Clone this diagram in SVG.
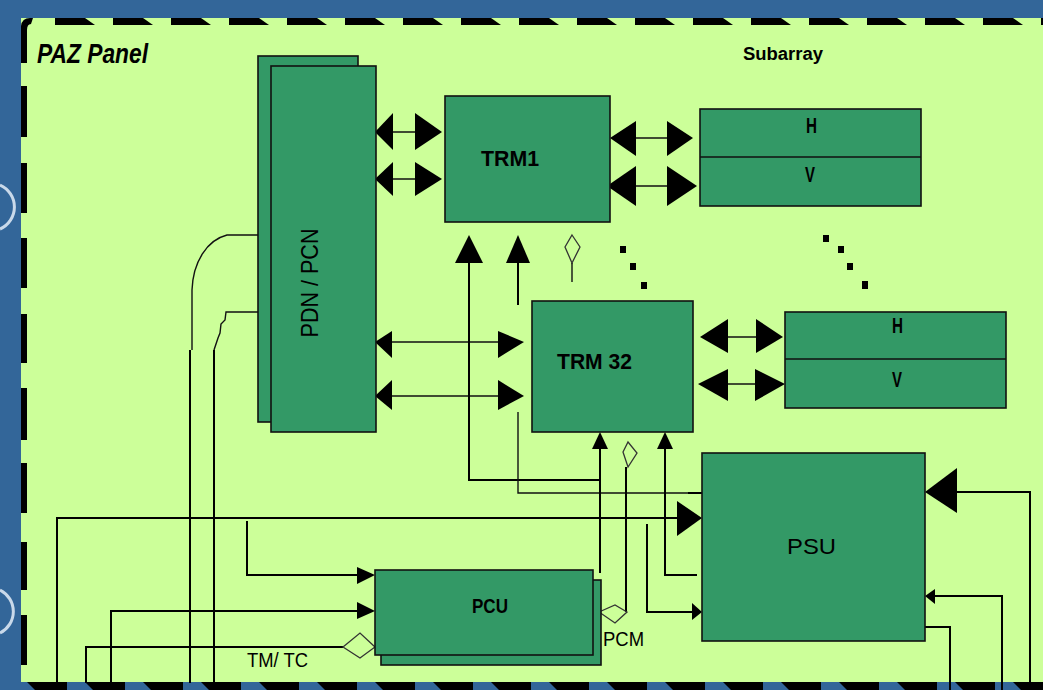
<svg xmlns="http://www.w3.org/2000/svg" width="1043" height="690" viewBox="0 0 1043 690">
<style>
.box{fill:#339966;stroke:#111;stroke-width:1.6}
.ln{fill:none;stroke:#000;stroke-width:2}
.thin{fill:none;stroke:#111;stroke-width:1.4}
.ah{fill:#000;stroke:none}
.dia{fill:none;stroke:#333;stroke-width:1.3}
.t{font-family:"Liberation Sans",Arial,sans-serif;fill:#000}
.b{font-weight:bold}
</style>
<defs>
<pattern id="topdash" x="55" y="18" width="58" height="7" patternUnits="userSpaceOnUse">
<polygon points="0,0 30,0 40,7 0,7" fill="#000"/>
</pattern>
<pattern id="botdash" x="27" y="682" width="58" height="8" patternUnits="userSpaceOnUse">
<polygon points="0,0 40,0 40,8 8,8" fill="#000"/>
</pattern>
</defs>

<g id="background">
<rect x="0" y="0" width="1043" height="690" fill="#336699"/>
<path d="M0,185 A24,24 0 0 1 0,229" fill="none" stroke="#c9d9ea" stroke-width="3"/>
<path d="M0,590 A24,24 0 0 1 0,633" fill="none" stroke="#c9d9ea" stroke-width="3"/>
<rect x="21" y="18" width="1022" height="664" fill="#CCFF99"/>
<rect x="55" y="18" width="988" height="7" fill="url(#topdash)"/>
<rect x="21" y="682" width="1022" height="8" fill="url(#botdash)"/>
<g fill="#000">
<path d="M21,63 V26 Q22,18 30,18 H33 L31,24 Q27,24 27,30 V63 Z"/>
<rect x="21" y="86" width="6" height="51"/>
<rect x="21" y="163" width="6" height="50"/>
<rect x="21" y="238" width="6" height="50"/>
<rect x="21" y="314" width="6" height="49"/>
<rect x="21" y="388" width="6" height="52"/>
<rect x="21" y="463" width="6" height="50"/>
<rect x="21" y="542" width="6" height="48"/>
<rect x="21" y="615" width="6" height="50"/>
</g>
</g>

<g id="labels">
<text class="t b" x="37" y="63" font-size="28" font-style="italic" textLength="111" lengthAdjust="spacingAndGlyphs">PAZ Panel</text>
<text class="t b" x="743" y="60" font-size="18" textLength="80" lengthAdjust="spacingAndGlyphs">Subarray</text>
<text class="t" x="247" y="667" font-size="20" textLength="61" lengthAdjust="spacingAndGlyphs">TM/ TC</text>
<text class="t" x="603" y="646" font-size="21" textLength="41" lengthAdjust="spacingAndGlyphs">PCM</text>
</g>

<g id="dots" fill="#000">
<rect x="620" y="246" width="6" height="7"/>
<rect x="630" y="263" width="6" height="7"/>
<rect x="641" y="282" width="6" height="7"/>
<rect x="823" y="235" width="6" height="7"/>
<rect x="838" y="246" width="6" height="7"/>
<rect x="847" y="263" width="6" height="7"/>
<rect x="862" y="281" width="6" height="8"/>
</g>

<g id="connectors">
<!-- PDN/PCN feed lines -->
<path class="thin" d="M271,235 H227 C207,240 193,262 192,290 V350"/>
<path class="ln" d="M190,350 V683"/>
<path class="thin" d="M258,312 H226 L225,320 L221,324 L220,333 L218,338 L214,350"/>
<path class="ln" d="M214,350 V683"/>
<!-- double arrows PDN - TRM1 -->
<path class="thin" d="M393,132 H415 M393,179 H415"/>
<polygon class="ah" points="375,132 393,113 393,150"/>
<polygon class="ah" points="442,132 415,113 415,150"/>
<polygon class="ah" points="375,179 393,162 393,196"/>
<polygon class="ah" points="442,179 415,162 415,196"/>
<!-- TRM1 - HV1 -->
<path class="thin" d="M636,138 H667 M636,186 H667"/>
<polygon class="ah" points="610,138 636,121 636,156"/>
<polygon class="ah" points="693,138 667,121 667,156"/>
<polygon class="ah" points="607,186 636,166 636,206"/>
<polygon class="ah" points="697,186 667,166 667,206"/>
<!-- PDN - TRM32 -->
<path class="thin" d="M392,342 H498 M392,396 H498"/>
<polygon class="ah" points="375,342 392,331 392,358"/>
<polygon class="ah" points="524,342 498,331 498,358"/>
<polygon class="ah" points="375,396 392,380 392,410"/>
<polygon class="ah" points="524,396 498,380 498,410"/>
<!-- TRM32 - HV2 -->
<path class="thin" d="M728,337 H756 M728,384 H755"/>
<polygon class="ah" points="700,337 728,319 728,353"/>
<polygon class="ah" points="783,337 756,319 756,353"/>
<polygon class="ah" points="698,384 728,369 728,401"/>
<polygon class="ah" points="785,384 755,369 755,401"/>
<!-- supply lines to TRM1 -->
<path class="ln" d="M469,263 V480 H600"/>
<polygon class="ah" points="469,235 455,263 483,263"/>
<path class="ln" d="M518,263 V305"/>
<path class="thin" d="M518,412 V493 H702"/>
<path class="ln" d="M688,493 H702"/>
<polygon class="ah" points="518,235 506,263 530,263"/>
<polygon class="dia" points="572,235 580,247 572,263 565,247"/>
<path class="thin" d="M572,263 V282"/>
<!-- supply lines to TRM32 -->
<path class="ln" d="M600,573 V449"/>
<polygon class="ah" points="600,432 592,449 608,449"/>
<path class="ln" d="M665,449 V575 H697"/>
<polygon class="ah" points="665,432 657,449 673,449"/>
<polygon class="dia" points="628,442 637,453 628,467 623,452"/>
<path class="ln" d="M626,467 V612"/>
<polygon class="dia" points="599,612 615,605 627,612 615,623"/>
<!-- PSU left inputs -->
<path class="ln" d="M57,683 V518 H677"/>
<polygon class="ah" points="702,518 677,501 677,536"/>
<path class="ln" d="M647,524 V612 H692"/>
<polygon class="ah" points="702,612 692,603 692,620"/>
<!-- PSU right -->
<path class="ln" d="M957,492 H1030 V690"/>
<polygon class="ah" points="925,492 957,468 957,513"/>
<path class="ln" d="M935,596 H1002 V690"/>
<polygon class="ah" points="925,596 935,589 935,604"/>
<path class="ln" d="M925,627 H950 V690"/>
<!-- PCU inputs -->
<path class="ln" d="M247,521 V575 H357"/>
<polygon class="ah" points="375,575 357,567 357,584"/>
<path class="ln" d="M111,683 V611 H357"/>
<polygon class="ah" points="375,611 357,602 357,619"/>
<path class="ln" d="M86,683 V647 H343"/>
<polygon class="dia" points="343,647 360,633 375,647 360,658"/>
</g>

<g id="pdn-pcn">
<rect class="box" x="258" y="56" width="100" height="366" stroke-width="1.2"/>
<rect class="box" x="271" y="66" width="105" height="366"/>
<text class="t" transform="translate(318,283) rotate(-90)" font-size="24" text-anchor="middle" textLength="109" lengthAdjust="spacingAndGlyphs">PDN / PCN</text>
</g>

<g id="trm1">
<rect class="box" x="445" y="96" width="165" height="126"/>
<text class="t b" x="481" y="166" font-size="22" textLength="58" lengthAdjust="spacingAndGlyphs">TRM1</text>
</g>

<g id="subarray-hv1">
<rect class="box" x="700" y="109" width="221" height="97"/>
<line x1="700" y1="157" x2="921" y2="157" stroke="#111" stroke-width="1.6"/>
<text class="t b" x="806" y="133" font-size="22" textLength="11" lengthAdjust="spacingAndGlyphs">H</text>
<text class="t b" x="805" y="182" font-size="22" textLength="10" lengthAdjust="spacingAndGlyphs">V</text>
</g>

<g id="trm32">
<rect class="box" x="532" y="301" width="161" height="131"/>
<text class="t b" x="557" y="369" font-size="22" textLength="75" lengthAdjust="spacingAndGlyphs">TRM 32</text>
</g>

<g id="subarray-hv2">
<rect class="box" x="785" y="312" width="221" height="96"/>
<line x1="785" y1="359" x2="1006" y2="359" stroke="#111" stroke-width="1.6"/>
<text class="t b" x="892" y="333" font-size="22" textLength="11" lengthAdjust="spacingAndGlyphs">H</text>
<text class="t b" x="892" y="387" font-size="22" textLength="10" lengthAdjust="spacingAndGlyphs">V</text>
</g>

<g id="psu">
<rect class="box" x="702" y="453" width="223" height="188"/>
<text class="t" x="787" y="554" font-size="22" textLength="49" lengthAdjust="spacingAndGlyphs">PSU</text>
</g>

<g id="pcu">
<rect class="box" x="381" y="580" width="220" height="85"/>
<rect class="box" x="375" y="570" width="218" height="85"/>
<text class="t b" x="472" y="613" font-size="20" textLength="36" lengthAdjust="spacingAndGlyphs">PCU</text>
</g>
</svg>
